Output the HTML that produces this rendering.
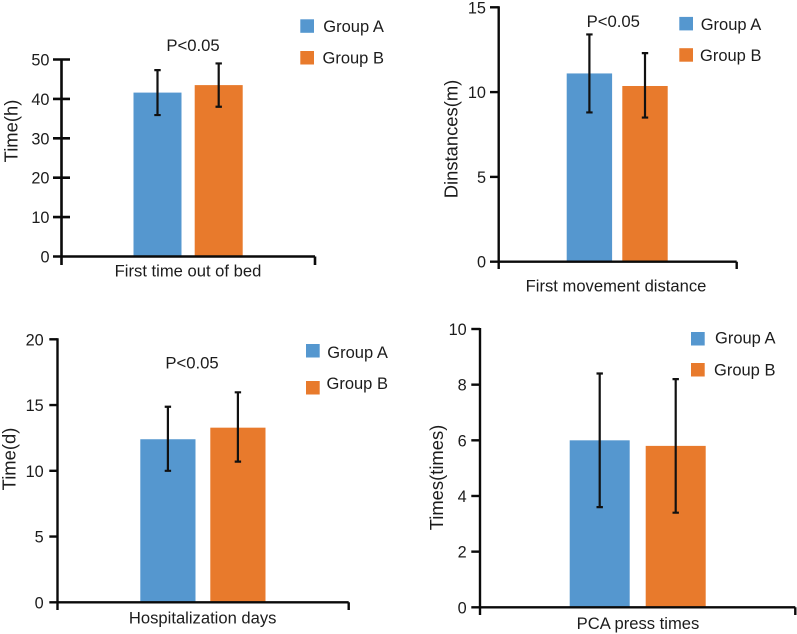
<!DOCTYPE html>
<html lang="en">
<head>
<meta charset="utf-8">
<title>Group A vs Group B outcomes</title>
<style>
html,body{margin:0;padding:0;background:#fff;width:797px;height:634px;overflow:hidden}
svg{display:block;position:absolute;left:0;top:0;filter:blur(0.35px)}
text{font-family:"Liberation Sans",Arial,sans-serif;fill:#1c1c1c}
</style>
</head>
<body>
<svg id="figure" width="797" height="634" viewBox="0 0 797 634" xmlns="http://www.w3.org/2000/svg"></svg>
<script>
const groupLabels = ["Group A", "Group B"];

const bedTicks = [0, 10, 20, 30, 40, 50];
const bedMeans = [41.6, 43.5];
const bedUpper = [47.3, 49];
const bedLower = [35.9, 38];

const distanceTicks = [0, 5, 10, 15];
const distanceMeans = [11.1, 10.36];
const distanceUpper = [13.4, 12.3];
const distanceLower = [8.8, 8.5];

const hospitalTicks = [0, 5, 10, 15, 20];
const hospitalMeans = [12.4, 13.28];
const hospitalUpper = [14.87, 15.97];
const hospitalLower = [10, 10.7];

const pcaTicks = [0, 2, 4, 6, 8, 10];
const pcaMeans = [6, 5.8];
const pcaUpper = [8.4, 8.2];
const pcaLower = [3.6, 3.4];

const colors = ["#5597cf", "#e87a2c"];
const NS = "http://www.w3.org/2000/svg";
const root = document.getElementById("figure");

function make(parent, tag, attrs, content) {
  const el = document.createElementNS(NS, tag);
  for (const k in attrs) el.setAttribute(k, attrs[k]);
  if (content !== undefined) el.textContent = content;
  parent.appendChild(el);
  return el;
}

function drawPanel(o) {
  const g = make(root, "g", {});
  
  

  const maxTick = o.ticks[o.ticks.length - 1];
  const yScale = function (v) { return o.y0 - (v / maxTick) * (o.y0 - o.yTop); };

  // bars
  o.means.forEach(function (m, i) {
    const bar = make(g, "rect", {
      x: o.barX[i], y: yScale(m), width: o.barW, height: o.y0 - yScale(m), fill: colors[i]
    });
    
    
  });

  // error bars
  o.means.forEach(function (m, i) {
    const cx = o.barX[i] + o.barW / 2;
    const d = "M" + cx + " " + yScale(o.upper[i]) + "V" + yScale(o.lower[i]) +
      "M" + (cx - o.cap) + " " + yScale(o.upper[i]) + "H" + (cx + o.cap) +
      "M" + (cx - o.cap) + " " + yScale(o.lower[i]) + "H" + (cx + o.cap);
    const err = make(g, "path", { d: d, stroke: "#111", "stroke-width": 2.2, fill: "none" });
    
    
  });

  // axes
  const axis = make(g, "path", {
    d: "M" + o.x0 + " " + (o.yTop - 1) + "V" + o.yBottom +
       "M" + o.tickLeft + " " + o.y0 + "H" + o.xRight + "M" + o.xRight + " " + o.y0 + "V" + o.yBottom,
    stroke: "#0a0a0a", "stroke-width": o.sw, fill: "none"
  });
  
  

  // ticks and labels
  o.ticks.forEach(function (t) {
    const y = yScale(t);
    if (t !== 0) {
      const tick = make(g, "line", {
        x1: o.tickLeft, x2: o.tickRight, y1: y, y2: y, stroke: "#0a0a0a", "stroke-width": o.sw
      });
      
      
    }
    const label = make(g, "text", {
      x: o.labelRight, y: y + 6, "text-anchor": "end", "font-size": 16.3
    }, String(t));
    
    
  });

  // axis titles
  const yTitle = make(g, "text", {
    transform: "translate(" + o.yTitleX + " " + o.yTitleY + ") rotate(-90)",
    "text-anchor": "middle", "font-size": o.yTitleSize
  }, o.yTitle);
  
  

  const xTitle = make(g, "text", {
    x: o.xTitleX, y: o.xTitleY, "text-anchor": "middle", "font-size": o.xTitleSize
  }, o.xTitle);
  
  

  // p value
  if (o.pText) {
    const p = make(g, "text", {
      x: o.pX, y: o.pY, "text-anchor": "middle", "font-size": 16.7
    }, o.pText);
    
    
  }

  // legend
  groupLabels.forEach(function (name, i) {
    const sw = make(g, "rect", {
      x: o.legendX, y: o.legendY[i], width: 13.7, height: 13.5, fill: colors[i]
    });
    
    
    const tx = make(g, "text", {
      x: o.legendTextX[i], y: o.legendTextY[i], "font-size": 16.5
    }, name);
    
    
  });
}

drawPanel({
  name: "first-time-out-of-bed-chart",
  ticks: bedTicks, means: bedMeans, upper: bedUpper, lower: bedLower,
  x0: 61.5, y0: 256.5, yTop: 59.5, xRight: 315, yBottom: 265, sw: 2.6,
  tickLeft: 53, tickRight: 70, labelRight: 49.5,
  barX: [133.5, 194.7], barW: 48, cap: 3.2,
  yTitle: "Time(h)", yTitleX: 17.5, yTitleY: 131, yTitleSize: 18.4,
  xTitle: "First time out of bed", xTitleX: 188, xTitleY: 276.5, xTitleSize: 16.6,
  pText: "P<0.05", pX: 193, pY: 51,
  legendX: 300.3, legendY: [19.3, 51], legendTextX: [323.3, 322.5], legendTextY: [32, 63.5]
});

drawPanel({
  name: "first-movement-distance-chart",
  ticks: distanceTicks, means: distanceMeans, upper: distanceUpper, lower: distanceLower,
  x0: 498.7, y0: 261.7, yTop: 7.3, xRight: 736.7, yBottom: 269, sw: 2.4,
  tickLeft: 490, tickRight: 498.7, labelRight: 486,
  barX: [566.7, 622.3], barW: 45.4, cap: 3.2,
  yTitle: "Dinstances(m)", yTitleX: 457.5, yTitleY: 139, yTitleSize: 18.4,
  xTitle: "First movement distance", xTitleX: 616, xTitleY: 291.5, xTitleSize: 16.6,
  pText: "P<0.05", pX: 613.3, pY: 27,
  legendX: 679.3, legendY: [16.9, 48.2], legendTextX: [700.7, 700], legendTextY: [30, 61.2]
});

drawPanel({
  name: "hospitalization-days-chart",
  ticks: hospitalTicks, means: hospitalMeans, upper: hospitalUpper, lower: hospitalLower,
  x0: 57.5, y0: 602.3, yTop: 339.3, xRight: 348.7, yBottom: 610, sw: 2.4,
  tickLeft: 49.3, tickRight: 57.5, labelRight: 43.7,
  barX: [140.3, 210.3], barW: 55.2, cap: 3.2,
  yTitle: "Time(d)", yTitleX: 15.5, yTitleY: 459, yTitleSize: 18.4,
  xTitle: "Hospitalization days", xTitleX: 202.7, xTitleY: 623.3, xTitleSize: 16.6,
  pText: "P<0.05", pX: 192, pY: 368.5,
  legendX: 306, legendY: [344, 381], legendTextX: [327.3, 326.5], legendTextY: [358, 389.2]
});

drawPanel({
  name: "pca-press-times-chart",
  ticks: pcaTicks, means: pcaMeans, upper: pcaUpper, lower: pcaLower,
  x0: 480, y0: 607.3, yTop: 329, xRight: 795.3, yBottom: 615, sw: 2.4,
  tickLeft: 471.3, tickRight: 480, labelRight: 466.7,
  barX: [569.7, 645.7], barW: 60, cap: 3.2,
  yTitle: "Times(times)", yTitleX: 443, yTitleY: 477.5, yTitleSize: 18.4,
  xTitle: "PCA press times", xTitleX: 638, xTitleY: 629, xTitleSize: 16.6,
  pText: "",
  legendX: 691, legendY: [332, 363], legendTextX: [715, 714], legendTextY: [343.7, 375.5]
});
</script>
</body>
</html>
